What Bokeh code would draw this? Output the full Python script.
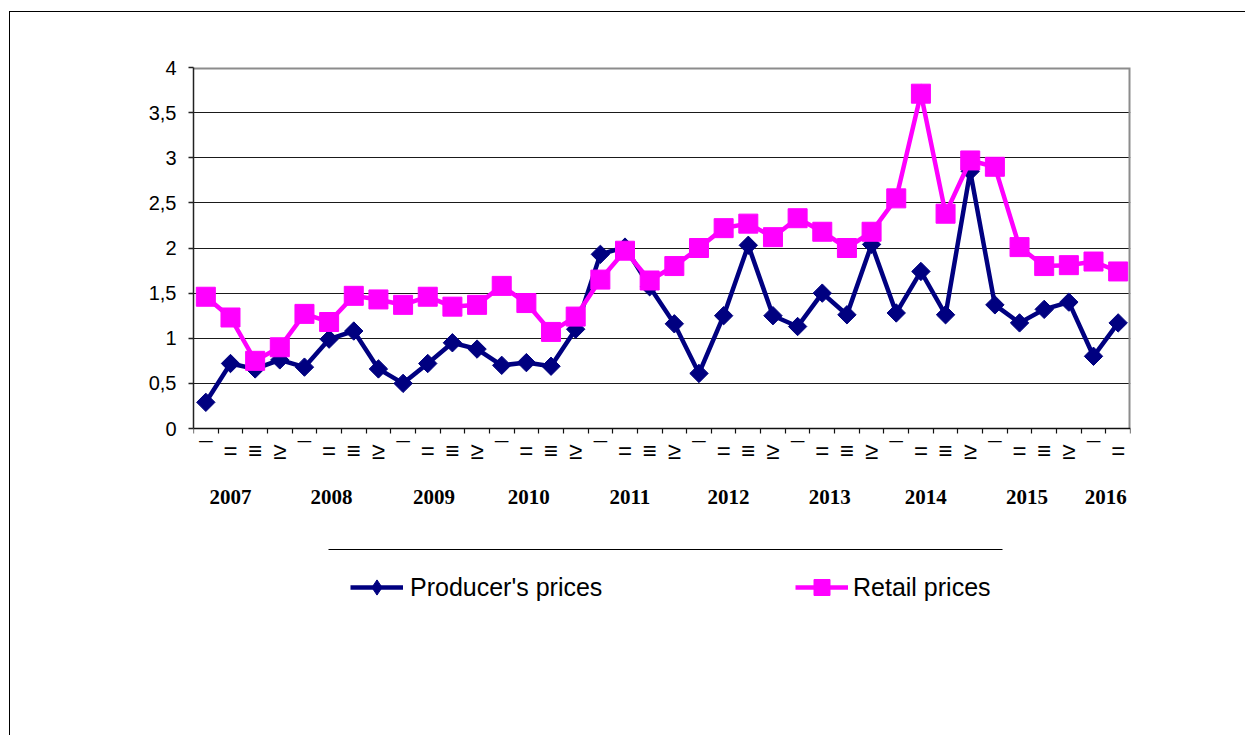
import numpy as np
from bokeh.plotting import figure
from bokeh.models import Range1d, FixedTicker, LinearAxis, Legend, LegendItem, Grid
from bokeh.embed import file_html
from bokeh.resources import INLINE

# ---------------- data ----------------
quarter_labels = ["¯", "=", "≡", "≥"] * 9 + ["¯", "="]
years = ["2007", "2008", "2009", "2010", "2011", "2012", "2013", "2014", "2015", "2016"]
year_positions = [1.0, 5.1, 9.25, 13.1, 17.2, 21.2, 25.3, 29.2, 33.3, 36.5]
producer = [0.29, 0.72, 0.66, 0.76, 0.68, 0.99, 1.08, 0.66, 0.50, 0.72,
            0.95, 0.88, 0.70, 0.73, 0.69, 1.10, 1.93, 2.01, 1.57, 1.16,
            0.61, 1.25, 2.03, 1.25, 1.13, 1.50, 1.26, 2.04, 1.28, 1.74,
            1.26, 2.85, 1.37, 1.17, 1.32, 1.40, 0.80, 1.17]
retail = [1.46, 1.23, 0.75, 0.90, 1.27, 1.18, 1.47, 1.43, 1.37, 1.46,
          1.35, 1.37, 1.58, 1.39, 1.07, 1.24, 1.65, 1.97, 1.64, 1.80,
          2.00, 2.22, 2.27, 2.12, 2.33, 2.18, 2.00, 2.18, 2.55, 3.71,
          2.38, 2.97, 2.90, 2.01, 1.80, 1.81, 1.85, 1.74]
y_ticks = [0, 0.5, 1, 1.5, 2, 2.5, 3, 3.5, 4]
y_tick_labels = ["0", "0,5", "1", "1,5", "2", "2,5", "3", "3,5", "4"]
series_names = ["Producer's prices", "Retail prices"]

n = len(producer)
xs = list(range(n))

# ---------------- layout (page px) ----------------
OX, OY = 10, 12                 # figure content origin on the page (after margin + border)
FIG_W, FIG_H = 1236, 724
PLOT_L, PLOT_T, PLOT_R, PLOT_B = 193, 67, 1130, 610   # page px of the (extended) frame
LEFT, TOP = PLOT_L - OX, PLOT_T - OY
RIGHT = FIG_W - (PLOT_R - OX)
BOTTOM = FIG_H - (PLOT_B - OY)
frame_w = PLOT_R - PLOT_L
PX_PER_UNIT = 90.25
y_max = y_ticks[-1]
y_min = y_max - (PLOT_B - PLOT_T) / PX_PER_UNIT
x_min, x_max = -0.5, n - 0.5
px_per_x = frame_w / (x_max - x_min)


def sx(px):   # page px -> data x
    return x_min + (px - PLOT_L) / px_per_x


def sy(px):   # page px -> data y
    return y_max - (px - PLOT_T) / PX_PER_UNIT


p = figure(width=FIG_W, height=FIG_H,
           x_range=Range1d(x_min, x_max), y_range=Range1d(y_min, y_max),
           output_backend="svg", toolbar_location=None,
           x_axis_type=None, y_axis_type=None,
           min_border_left=LEFT, min_border_top=TOP,
           min_border_right=RIGHT, min_border_bottom=BOTTOM)
p.outline_line_color = None
p.background_fill_color = "white"
p.border_fill_color = "white"
# outer chart border: left and top edges visible, the rest runs off the page
p.styles = {"margin-left": "9px", "margin-top": "11px",
            "border-left": "1px solid black", "border-top": "1px solid black"}

# horizontal grid
grid = Grid(dimension=1, ticker=FixedTicker(ticks=y_ticks[1:-1]),
            grid_line_color="#1a1a1a", grid_line_width=1)
p.add_layout(grid)

# plot-area border (top and right, gray)
p.line([x_min, x_max, x_max], [y_max, y_max, 0], line_color="#8c8c8c", line_width=4)

# y axis
yaxis = LinearAxis(ticker=FixedTicker(ticks=y_ticks), bounds=(0, y_max),
                   major_label_overrides=dict(zip(y_ticks, y_tick_labels)),
                   axis_line_color="#222222", axis_line_width=1.5,
                   major_tick_line_color="#222222", major_tick_line_width=1.5,
                   major_tick_out=5, major_tick_in=0,
                   minor_tick_line_color=None,
                   major_label_standoff=12,
                   major_label_text_font="Liberation Sans",
                   major_label_text_font_size="20px",
                   major_label_text_color="black")
p.add_layout(yaxis, "left")

# x axis (quarters)
boundaries = [i - 0.5 for i in range(n + 1)]
xaxis = LinearAxis(fixed_location=0, bounds=(x_min, x_max),
                   ticker=FixedTicker(ticks=xs, minor_ticks=boundaries),
                   major_label_overrides=dict(zip(xs, quarter_labels)),
                   axis_line_color="#111111", axis_line_width=1.5,
                   major_tick_line_color=None, major_tick_out=0, major_tick_in=0,
                   minor_tick_line_color="#111111", minor_tick_line_width=1.2,
                   minor_tick_out=5, minor_tick_in=0,
                   major_label_standoff=3,
                   major_label_text_font="Liberation Sans",
                   major_label_text_font_size="24px",
                   major_label_text_color="black")
p.add_layout(xaxis, "below")

# year axis
yearaxis = LinearAxis(fixed_location=0,
                      ticker=FixedTicker(ticks=year_positions),
                      major_label_overrides=dict(zip(year_positions, years)),
                      axis_line_color=None,
                      major_tick_line_color=None, major_tick_out=0, major_tick_in=0,
                      minor_tick_line_color=None, minor_tick_out=0, minor_tick_in=0,
                      major_label_standoff=61,
                      major_label_text_font="Liberation Serif",
                      major_label_text_font_style="bold",
                      major_label_text_font_size="21px",
                      major_label_text_color="black")
p.add_layout(yearaxis, "below")

# series
NAVY = "#000080"
MAGENTA = "#FF00FF"
pl = p.line(xs, producer, line_color=NAVY, line_width=4.5, line_join="miter")
ps = p.scatter(xs, producer, marker="square", angle=np.pi / 4, size=13,
               fill_color=NAVY, line_color=NAVY)
rl = p.line(xs, retail, line_color=MAGENTA, line_width=4.5, line_join="miter")
rs = p.scatter(xs, retail, marker="square", size=19,
               fill_color=MAGENTA, line_color=MAGENTA)
# legend-only diamond key (hidden in the plot; the legend does not rotate markers)
pd_key = p.scatter(xs, producer, marker="diamond", fill_color=NAVY, line_color=NAVY,
                   visible=False)

# separator line above the legend
sep_y = sy(549)
p.line([sx(328), sx(1002)], [sep_y, sep_y], line_color="black", line_width=1.2)

# legends
LEG_Y = 587
common = dict(orientation="horizontal", padding=0, margin=0,
              border_line_color=None, background_fill_alpha=0,
              inactive_fill_alpha=0,
              label_text_font="Liberation Sans", label_text_font_size="25px",
              label_text_color="black")
g1, g2 = 38, 40
leg1 = Legend(items=[LegendItem(label=series_names[0], renderers=[pl, pd_key])],
              location=(350 - PLOT_L, PLOT_B - LEG_Y - g1 / 2), glyph_width=53,
              glyph_height=g1, label_standoff=7, **common)
leg2 = Legend(items=[LegendItem(label=series_names[1], renderers=[rl, rs])],
              location=(795 - PLOT_L, PLOT_B - LEG_Y - g2 / 2), glyph_width=53,
              glyph_height=g2, label_standoff=5, **common)
p.add_layout(leg1)
p.add_layout(leg2)

open("out.html", "w").write(file_html(p, INLINE))
